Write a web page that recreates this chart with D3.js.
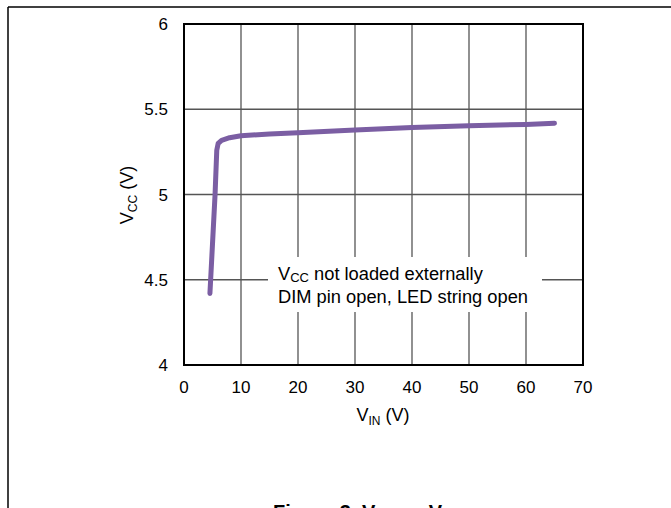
<html>
	<head>
		<meta charset="utf-8">
		<title>VCC vs VIN</title>
		<script src="https://cdn.jsdelivr.net/npm/d3@7/dist/d3.min.js"></script>
		<style type="text/css">
			body { margin: 0; background: #fff; }
			text { font-family: "Liberation Sans", Arial, sans-serif; }
		</style>
		<script type="text/javascript">
			// values
			var vin = [4.55, 5.0, 5.45, 5.75, 6.0, 6.6, 8, 10, 15, 20, 30, 40, 50, 60, 65];
			var vcc = [4.42, 4.71, 5.0, 5.26, 5.3, 5.318, 5.333, 5.345, 5.355, 5.362, 5.378, 5.393, 5.403, 5.411, 5.418];
			var xTicks = [0, 10, 20, 30, 40, 50, 60, 70];
			var yTicks = [4, 4.5, 5, 5.5, 6];
			var noteLines = ["not loaded externally", "DIM pin open, LED string open"];

			var plotL = 184, plotR = 583, plotT = 24, plotB = 365;

			function draw()
			{
				var svg = d3.select("svg");
				var x = d3.scaleLinear().domain([0, 70]).range([plotL, plotR]);
				var y = d3.scaleLinear().domain([4, 6]).range([plotB, plotT]);

				// page border
				svg.append("line").attr("x1", 8).attr("y1", 7).attr("x2", 671).attr("y2", 7)
					.attr("stroke", "#000").attr("stroke-width", 1.5);
				svg.append("line").attr("x1", 8).attr("y1", 7).attr("x2", 8).attr("y2", 508)
					.attr("stroke", "#000").attr("stroke-width", 1.5);

				// grid
				svg.append("g").selectAll("line").data(xTicks.slice(1, -1)).enter()
					.append("line")
					.attr("x1", function(d){ return x(d); })
					.attr("x2", function(d){ return x(d); })
					.attr("y1", plotT).attr("y2", plotB)
					.attr("stroke", "#555").attr("stroke-width", 1.3);
				svg.append("g").selectAll("line").data(yTicks.slice(1, -1)).enter()
					.append("line")
					.attr("y1", function(d){ return y(d); })
					.attr("y2", function(d){ return y(d); })
					.attr("x1", plotL).attr("x2", plotR)
					.attr("stroke", "#555").attr("stroke-width", 1.3);

				// tick labels
				svg.append("g").selectAll("text").data(xTicks).enter()
					.append("text")
					.attr("x", function(d){ return x(d); })
					.attr("y", 393)
					.attr("text-anchor", "middle")
					.attr("font-size", 17)
					.text(function(d){ return d; });
				svg.append("g").selectAll("text").data(yTicks).enter()
					.append("text")
					.attr("x", 168)
					.attr("y", function(d){ return y(d) + 6; })
					.attr("text-anchor", "end")
					.attr("font-size", 17)
					.text(function(d){ return d; });

				// note box
				svg.append("rect").attr("x", 268).attr("y", 257).attr("width", 274).attr("height", 55)
					.attr("fill", "#fff");
				var n1 = svg.append("text").attr("x", 278).attr("y", 280).attr("font-size", 18.3);
				n1.append("tspan").text("V");
				n1.append("tspan").attr("font-size", 13).attr("dy", 2).text("CC");
				n1.append("tspan").attr("dy", -2).text(" " + noteLines[0]);
				svg.append("text").attr("x", 278).attr("y", 303).attr("font-size", 18.3).text(noteLines[1]);

				// frame
				svg.append("rect").attr("x", plotL).attr("y", plotT)
					.attr("width", plotR - plotL).attr("height", plotB - plotT)
					.attr("fill", "none").attr("stroke", "#000").attr("stroke-width", 2);

				// curve
				var line = d3.line()
					.x(function(d, i){ return x(vin[i]); })
					.y(function(d){ return y(d); });
				svg.append("path").attr("d", line(vcc))
					.attr("fill", "none")
					.attr("stroke", "#7b5ea3")
					.attr("stroke-width", 5)
					.attr("stroke-linejoin", "round")
					.attr("stroke-linecap", "round");

				// axis titles
				var xl = svg.append("text").attr("x", 383).attr("y", 421).attr("text-anchor", "middle").attr("font-size", 18);
				xl.append("tspan").text("V");
				xl.append("tspan").attr("font-size", 12).attr("dy", 4).text("IN");
				xl.append("tspan").attr("dy", -4).text(" (V)");
				var yl = svg.append("text").attr("transform", "translate(133,195) rotate(-90)").attr("text-anchor", "middle").attr("font-size", 18);
				yl.append("tspan").text("V");
				yl.append("tspan").attr("font-size", 12).attr("dy", 4).text("CC");
				yl.append("tspan").attr("dy", -4).text(" (V)");

				// caption, cut by the bottom edge
				var cap = svg.append("text").attr("x", 273).attr("y", 519).attr("font-size", 20).attr("font-weight", "bold");
				cap.append("tspan").text("Figure 3. V");
				cap.append("tspan").attr("font-size", 14).attr("dy", 4).text("CC");
				cap.append("tspan").attr("dy", -4).text(" vs V");
				cap.append("tspan").attr("font-size", 14).attr("dy", 4).text("IN");
			}
		</script>
	</head>
	<body onload="draw();">
		<svg width="671" height="508"></svg>
	</body>
</html>
